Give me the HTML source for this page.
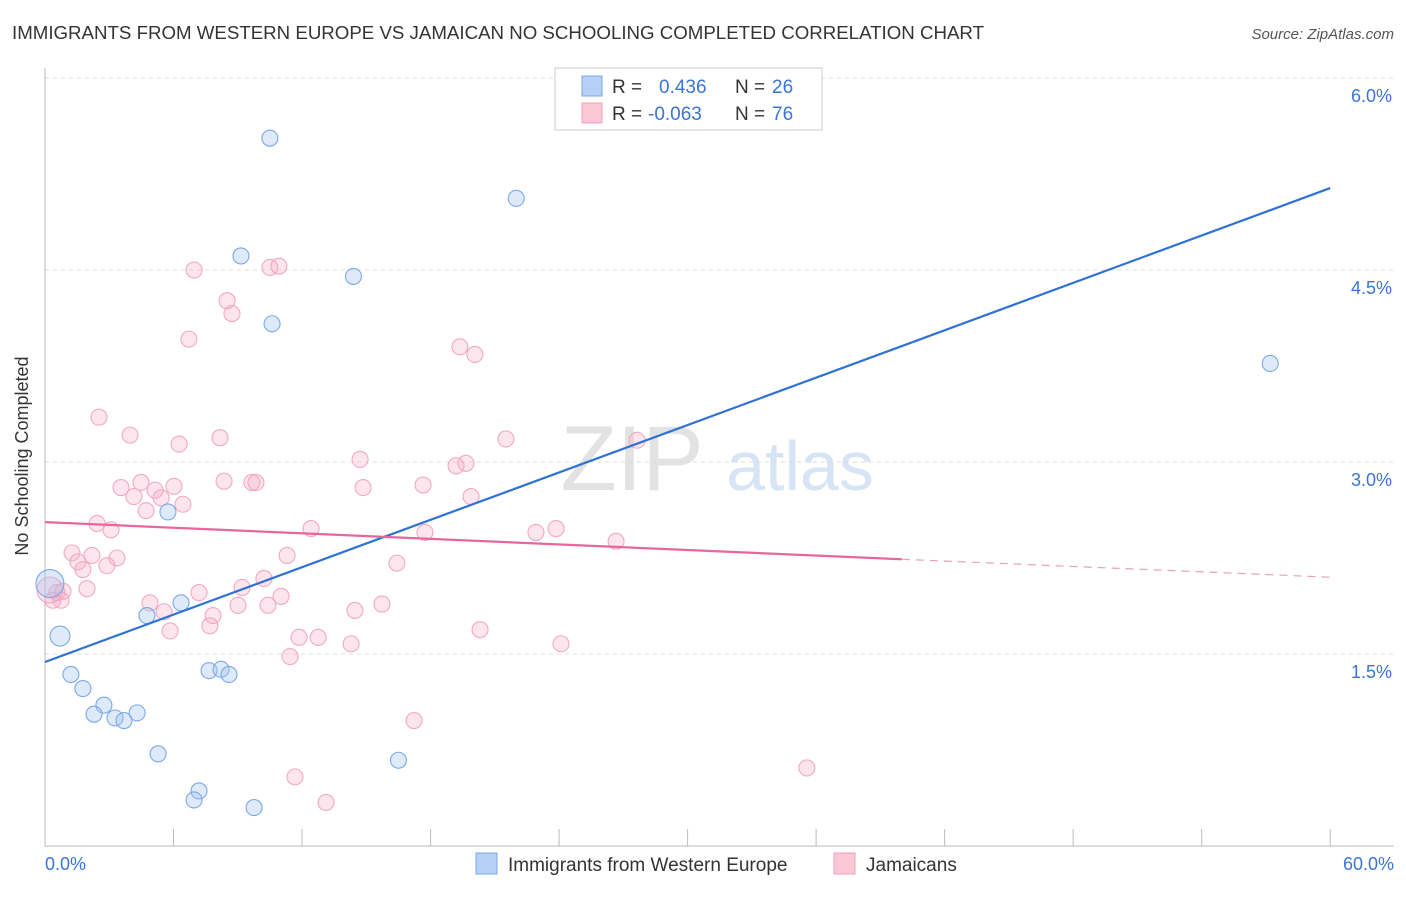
<!DOCTYPE html>
<html><head><meta charset="utf-8"><style>
body{margin:0;background:#fff;font-family:"Liberation Sans",sans-serif;}
svg text{font-family:"Liberation Sans",sans-serif;}
</style></head><body>
<svg id="c" width="1406" height="892">
<text x="12" y="39" font-size="18.7" fill="#333" textLength="972">IMMIGRANTS FROM WESTERN EUROPE VS JAMAICAN NO SCHOOLING COMPLETED CORRELATION CHART</text>
<text x="1394" y="39" font-size="15" fill="#555" font-style="italic" text-anchor="end">Source: ZipAtlas.com</text>
<text x="28" y="456" font-size="18" fill="#333" text-anchor="middle" transform="rotate(-90 28 456)">No Schooling Completed</text>
<g><text x="632" y="490" font-size="92" fill="#e2e2e2" text-anchor="middle" font-family="Liberation Serif">ZIP</text><text x="800" y="490" font-size="70" fill="#d6e4f5" text-anchor="middle">atlas</text></g>
<g id="grid"></g><g id="axes"></g><g id="pts"></g><g id="lines"></g>
<g>
<rect x="555" y="68" width="267" height="62" fill="#fff" stroke="#ccc"/>
<rect x="582" y="76" width="20" height="20" fill="#b7d0f5" stroke="#7aa8e8"/>
<rect x="582" y="103" width="20" height="20" fill="#fbc6d5" stroke="#f0a0bc"/>
<text y="93" font-size="19" fill="#333"><tspan x="612">R =</tspan><tspan x="659" fill="#3a74d4">0.436</tspan><tspan x="735">N =</tspan><tspan x="772" fill="#3a74d4">26</tspan></text>
<text y="120" font-size="19" fill="#333"><tspan x="612">R =</tspan><tspan x="648" fill="#3a74d4">-0.063</tspan><tspan x="735">N =</tspan><tspan x="772" fill="#3a74d4">76</tspan></text>
</g>
<g>
<rect x="476" y="853" width="21" height="21" fill="#b7d0f5" stroke="#7aa8e8"/>
<text x="508" y="871" font-size="19" fill="#333">Immigrants from Western Europe</text>
<rect x="834" y="853" width="21" height="21" fill="#fbc6d5" stroke="#f0a0bc"/>
<text x="866" y="871" font-size="19" fill="#333">Jamaicans</text>
</g>
</svg>
<script>
const blueX=[10.5,22.0,9.15,14.4,10.6,57.2,5.74,6.35,4.76,0.70,0.23,1.21,1.77,2.75,2.29,3.27,3.69,4.30,7.66,8.22,8.59,5.28,16.5,7.19,6.96,9.76];
const blueY=[5.53,5.06,4.61,4.45,4.08,3.77,2.61,1.90,1.80,1.64,2.05,1.34,1.23,1.10,1.03,1.00,0.98,1.04,1.37,1.38,1.34,0.72,0.67,0.43,0.36,0.30];
const blueBig=[9,10];
const pinkX=[6.96,10.50,10.92,8.50,8.73,6.72,19.37,20.07,2.52,3.97,6.26,8.17,21.52,27.64,14.71,19.19,19.65,8.36,9.66,9.85,4.48,3.55,5.14,6.02,14.85,17.65,4.15,5.42,6.44,19.89,4.72,2.43,3.08,12.42,17.74,22.92,23.86,26.66,1.26,2.19,3.36,1.54,2.89,1.77,11.30,16.43,10.22,9.20,1.96,0.56,0.84,0.37,0.75,7.19,11.02,4.90,5.56,10.41,9.01,15.73,14.47,7.84,7.70,5.84,20.31,11.86,12.75,14.29,24.09,11.44,17.23,35.57,11.67,13.12,0.23];
const pinkY=[4.50,4.52,4.53,4.26,4.16,3.96,3.90,3.84,3.35,3.21,3.14,3.19,3.18,3.17,3.02,2.97,2.99,2.85,2.84,2.84,2.84,2.80,2.78,2.81,2.80,2.82,2.73,2.72,2.67,2.73,2.62,2.52,2.47,2.48,2.45,2.45,2.48,2.38,2.29,2.27,2.25,2.22,2.19,2.16,2.27,2.21,2.09,2.02,2.01,1.98,1.99,1.92,1.92,1.98,1.95,1.90,1.83,1.88,1.88,1.89,1.84,1.80,1.72,1.68,1.69,1.63,1.63,1.58,1.58,1.48,0.98,0.61,0.54,0.34,2.00];
const yTicks=[1.5,3.0,4.5,6.0];
const yTickLabels=["1.5%","3.0%","4.5%","6.0%"];
const xTicks=[0,6,12,18,24,30,36,42,48,54,60];
const blueTrend=[[0,1.4375],[60,5.14]];
const pinkTrend=[[0,2.53],[40,2.24]];
const pinkDash=[[40,2.24],[60,2.10]];
const X=v=>45+v*21.42, Y=v=>846-v*128;
const NS="http://www.w3.org/2000/svg";
function mk(p,t,a){const e=document.createElementNS(NS,t);for(const k in a)e.setAttribute(k,a[k]);p.appendChild(e);return e;}
const g=document.getElementById('grid'),ax=document.getElementById('axes'),pts=document.getElementById('pts'),ln=document.getElementById('lines');
yTicks.forEach((t,i)=>{const l=mk(g,'line',{x1:45,x2:1394,y1:Y(t),y2:Y(t),stroke:'#ddd','stroke-dasharray':'4,4'});


const tx=mk(ax,'text',{x:1392,y:Y(t)+24,'font-size':18,fill:'#3a74d4','text-anchor':'end'});tx.textContent=yTickLabels[i];

});
const a1=mk(ax,'line',{x1:45,x2:45,y1:68,y2:846,stroke:'#bbb'});


const a2=mk(ax,'line',{x1:45,x2:1394,y1:846,y2:846,stroke:'#bbb'});


xTicks.forEach(t=>{const l=mk(ax,'line',{x1:X(t),x2:X(t),y1:846,y2:829,stroke:'#bbb'});

});
const xl0=mk(ax,'text',{x:45,y:870,'font-size':18,fill:'#3a74d4'});xl0.textContent='0.0%';


const xl1=mk(ax,'text',{x:1394,y:870,'font-size':18,fill:'#3a74d4','text-anchor':'end'});xl1.textContent='60.0%';


pinkX.forEach((v,i)=>{const c=mk(pts,'circle',{cx:X(v),cy:Y(pinkY[i]),r:i==pinkX.length-1?13:8,fill:'rgba(246,170,196,0.3)',stroke:'#f2a8c2','stroke-width':1.1});

});
blueX.forEach((v,i)=>{const c=mk(pts,'circle',{cx:X(v),cy:Y(blueY[i]),r:blueBig.includes(i)?(i==10?14:10):8,fill:'rgba(160,196,242,0.35)',stroke:'#7aa8e6','stroke-width':1.1});

});
const bl=mk(ln,'line',{x1:X(blueTrend[0][0]),y1:Y(blueTrend[0][1]),x2:X(blueTrend[1][0]),y2:Y(blueTrend[1][1]),stroke:'#2f72d6','stroke-width':2.2});


const pl=mk(ln,'line',{x1:X(pinkTrend[0][0]),y1:Y(pinkTrend[0][1]),x2:X(pinkTrend[1][0]),y2:Y(pinkTrend[1][1]),stroke:'#e8679a','stroke-width':2.2});


const pd=mk(ln,'line',{x1:X(pinkDash[0][0]),y1:Y(pinkDash[0][1]),x2:X(pinkDash[1][0]),y2:Y(pinkDash[1][1]),stroke:'#e8a0bc','stroke-width':1.2,'stroke-dasharray':'8,6'});


</script>
</body></html>
